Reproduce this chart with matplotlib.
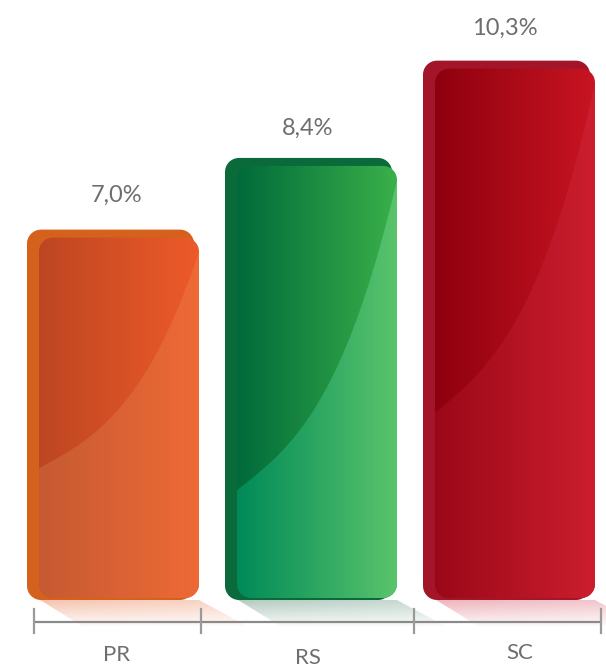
import numpy as np
import matplotlib.pyplot as plt
from matplotlib.patches import Polygon
from matplotlib.colors import LinearSegmentedColormap, to_rgb

# ---- data ----
categories = ['PR', 'RS', 'SC']
values = [7.0, 8.4, 10.3]
value_labels = ['7,0%', '8,4%', '10,3%']

# ---- styles ----
back_colors = ['#d4621c', '#0a6a3a', '#a3162a']
upper_left = ['#bd4622', '#006a3a', '#8e000e']
upper_right = ['#ee5a2a', '#3ab04a', '#c81422']
lower_left = ['#c65a32', '#008a58', '#9a0818']
lower_right = ['#ee6a36', '#5ac46c', '#cc1e2e']
shadow_colors = ['#f6c4b0', '#b4ccc0', '#eeb4bc']
gloss_start = [0.36, 0.25, 0.35]
value_dxy_px = [(3, 34), (-4, 30), (-5, 32)]
label_dxy_px = [(3, -67), (-4, -70), (10, -65)]
boundaries_px = [34, 201, 414, 601]

W, H = 606, 668
fig = plt.figure(figsize=(W / 100, H / 100), dpi=100)
ax = fig.add_axes([0, 0, 1, 1])
XPX, YPX = 198.0, 51.2
x0px, y0px = 114, 80
xlim = (-x0px / XPX, (W - x0px) / XPX)
ylim = (-y0px / YPX, (H - y0px) / YPX)


def dx(p):
    return p / XPX


def dy(p):
    return p / YPX


def arc(cx, cy, rx, ry, a0, a1, n=12):
    a = np.radians(np.linspace(a0, a1, n))
    return list(zip(cx + rx * np.cos(a), cy + ry * np.sin(a)))


def rounded_rect(l, r, b, t, rpx=14):
    rx, ry = dx(rpx), dy(rpx)
    pts = []
    pts += arc(r - rx, t - ry, rx, ry, 0, 90)
    pts += arc(l + rx, t - ry, rx, ry, 90, 180)
    pts += arc(l + rx, b + ry, rx, ry, 180, 270)
    pts += arc(r - rx, b + ry, rx, ry, 270, 360)
    return pts


def grad_image(l, r, b, t, c0, c1, clip, z):
    cmap = LinearSegmentedColormap.from_list('g', [c0, c1])
    im = ax.imshow(np.linspace(0, 1, 256)[None, :], cmap=cmap, extent=[l, r, b, t],
                   aspect='auto', zorder=z, interpolation='bilinear')
    im.set_clip_path(clip)


base = -dy(12)
axis_y = -dy(34)
text_col = '#6d6e71'

for i, (cat, v) in enumerate(zip(categories, values)):
    x = i
    # ---- shadow ----
    sl, sr = x - dx(74), x + dx(85)
    sb = axis_y - dy(4)
    poly = Polygon([(sl, base), (sr, base), (sr + dx(48), sb), (sl + dx(42), sb)],
                   closed=True, facecolor='none', edgecolor='none')
    ax.add_patch(poly)
    img = np.zeros((64, 64, 4))
    img[..., :3] = to_rgb(shadow_colors[i])
    t = np.linspace(0, 1, 64)[:, None]
    s = np.linspace(0, 1, 64)[None, :]
    img[..., 3] = (1 - 0.9 * t) * (1 - 0.3 * s)
    im = ax.imshow(img, extent=[sl, sr + dx(48), sb, base], origin='upper',
                   aspect='auto', zorder=1, interpolation='bilinear')
    im.set_clip_path(poly)

    # ---- back layer ----
    back = Polygon(rounded_rect(x - dx(87), x + dx(80), base, v), closed=True,
                   facecolor=back_colors[i], edgecolor='none', zorder=2)
    ax.add_patch(back)

    # ---- front layer ----
    fl, fr = x - dx(75), x + dx(85)
    ft = v - dy(8)
    fb = base + dy(2)
    front = Polygon(rounded_rect(fl, fr, fb, ft), closed=True,
                    facecolor='none', edgecolor='none', zorder=3)
    ax.add_patch(front)
    grad_image(fl, fr, fb, ft, upper_left[i], upper_right[i], front, 3)

    # ---- lower (glossy) region ----
    f0 = gloss_start[i]
    f1 = 1 - dy(14) / (ft - fb)
    u = np.linspace(0, 1, 100)
    shape = 0.4 * u + 0.6 * u ** 3
    cx = fl + (fr - fl) * u
    cy = fb + (ft - fb) * (f0 + (f1 - f0) * shape)
    rx, ry = dx(14), dy(14)
    pts = list(zip(cx, cy))
    pts += arc(fr - rx, fb + ry, rx, ry, 0, -90)
    pts += arc(fl + rx, fb + ry, rx, ry, 270, 180)
    lower = Polygon(pts, closed=True, facecolor='none', edgecolor='none', zorder=4)
    ax.add_patch(lower)
    grad_image(fl, fr, fb, ft, lower_left[i], lower_right[i], lower, 4)

    # ---- labels ----
    ox, oy = value_dxy_px[i]
    ax.text(x + dx(ox), v + dy(oy), value_labels[i], ha='center', va='center',
            fontsize=17, color=text_col, family='Lato')
    lx, ly = label_dxy_px[i]
    ax.text(x + dx(lx), dy(ly), cat, ha='center', va='center',
            fontsize=16, color=text_col, family='Lato')

# ---- axis line and boundary ticks ----
bx = [(b - x0px) / XPX for b in boundaries_px]
ax.plot([bx[0], bx[-1]], [axis_y, axis_y], color='#8a8a8a', lw=1.6, zorder=5,
        solid_capstyle='butt')
for b in bx:
    ax.plot([b, b], [axis_y + dy(13), axis_y - dy(11)], color='#9a9a9a', lw=1.6, zorder=5)

ax.set_xlim(*xlim)
ax.set_ylim(*ylim)
ax.axis('off')
fig.savefig('out.png', dpi=100)
